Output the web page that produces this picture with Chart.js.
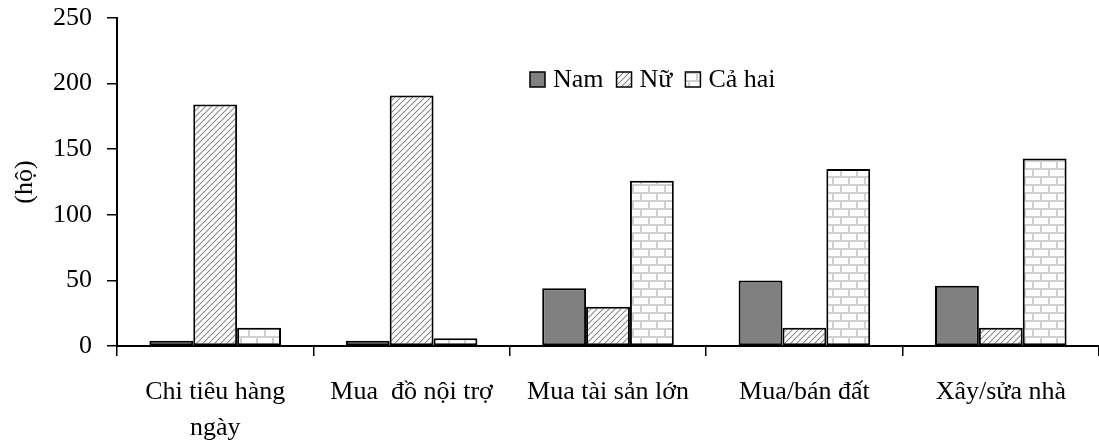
<!DOCTYPE html>
<html>
<head>
<meta charset="utf-8">
<script src="https://cdn.jsdelivr.net/npm/chart.js@4"></script>
<style>
  html, body { margin: 0; padding: 0; background: #fff; }
  #wrap { width: 1099px; height: 441px; }
</style>
</head>
<body>
<div id="wrap"><canvas id="chart" width="1099" height="441"></canvas></div>
<script>
const categories = [["Chi tiêu hàng", "ngày"], "Mua  đồ nội trợ", "Mua tài sản lớn", "Mua/bán đất", "Xây/sửa nhà"];
const seriesNames = ["Nam", "Nữ", "Cả hai"];
const namValues = [4, 4, 44, 50, 46];
const nuValues = [184, 191, 30, 14, 14];
const caHaiValues = [14, 6, 126, 135, 143];
const yTicks = [0, 50, 100, 150, 200, 250];

const FONT = "'Liberation Serif', 'Times New Roman', serif";

// ==== PATTERNS ====
function hatchPattern() {
    const c = document.createElement("canvas");
    c.width = 6; c.height = 6;
    const g = c.getContext("2d");
    g.fillStyle = "#fff";
    g.fillRect(0, 0, 6, 6);
    g.strokeStyle = "#8a8a8a";
    g.lineWidth = 1.1;
    g.beginPath();
    g.moveTo(0, 6); g.lineTo(6, 0);
    g.moveTo(-1, 1); g.lineTo(1, -1);
    g.moveTo(5, 7); g.lineTo(7, 5);
    g.stroke();
    return g.createPattern(c, "repeat");
}

function brickPattern() {
    const c = document.createElement("canvas");
    c.width = 16; c.height = 16;
    const g = c.getContext("2d");
    g.fillStyle = "#fff";
    g.fillRect(0, 0, 16, 16);
    g.fillStyle = "#d0d0d0";
    g.fillRect(0, 0, 16, 2);
    g.fillRect(0, 8, 16, 2);
    g.fillRect(0, 0, 2, 8);
    g.fillRect(8, 8, 2, 8);
    return g.createPattern(c, "repeat");
}

const fills = ["#808080", hatchPattern(), brickPattern()];

// ==== LEGEND (drawn inside the plot) ====
const legendPlugin = {
    id: "innerLegend",
    afterDraw(chart) {
        const ctx = chart.ctx;
        ctx.save();
        ctx.font = "26px " + FONT;
        ctx.textBaseline = "middle";
        let x = 530;
        const y = 80;
        chart.data.datasets.forEach(ds => {
            ctx.fillStyle = ds.backgroundColor;
            ctx.fillRect(x, y - 8, 15, 15);
            ctx.strokeStyle = "#000";
            ctx.lineWidth = 1.5;
            ctx.strokeRect(x, y - 8, 15, 15);
            ctx.fillStyle = "#000";
            ctx.fillText(ds.label, x + 23, y);
            x += 23 + ctx.measureText(ds.label).width + 13;
        });
        ctx.restore();
    }
};

const datasets = [namValues, nuValues, caHaiValues].map((vals, i) => ({
    label: seriesNames[i],
    data: vals,
    backgroundColor: fills[i],
    borderColor: "#000",
    borderWidth: 2,
    borderSkipped: false,
    categoryPercentage: 0.67,
    barPercentage: 1
}));

new Chart(document.getElementById("chart"), {
    type: "bar",
    data: { labels: categories, datasets },
    options: {
        responsive: false,
        animation: false,
        layout: { padding: { top: 18, right: 0, left: 0, bottom: 0 } },
        plugins: {
            legend: { display: false },
            tooltip: { enabled: false }
        },
        scales: {
            x: {
                grid: { drawOnChartArea: false, drawTicks: true, tickLength: 10, color: "#000", lineWidth: 1.5 },
                border: { color: "#000", width: 2 },
                ticks: {
                    color: "#000",
                    font: { family: FONT, size: 26, lineHeight: 1.38 },
                    padding: 18,
                    maxRotation: 0,
                    autoSkip: false
                },
                afterFit(scale) {
                    scale.height = 95;
                    scale.paddingLeft = 0;
                    scale.paddingRight = 0;
                }
            },
            y: {
                min: 0,
                max: 250,
                afterBuildTicks(scale) { scale.ticks = yTicks.map(v => ({ value: v })); },
                grid: { drawOnChartArea: false, drawTicks: true, tickLength: 10, color: "#000", lineWidth: 1.5 },
                border: { color: "#000", width: 2 },
                ticks: {
                    color: "#000",
                    font: { family: FONT, size: 26 },
                    padding: 15
                },
                title: {
                    display: true,
                    text: "(hộ)",
                    color: "#000",
                    font: { family: FONT, size: 26 },
                    padding: { top: 10, bottom: 0 }
                },
                afterFit(scale) {
                    scale.width = 117;
                    scale.paddingTop = 0;
                    scale.paddingBottom = 0;
                }
            }
        }
    },
    plugins: [legendPlugin]
});
</script>
</body>
</html>
